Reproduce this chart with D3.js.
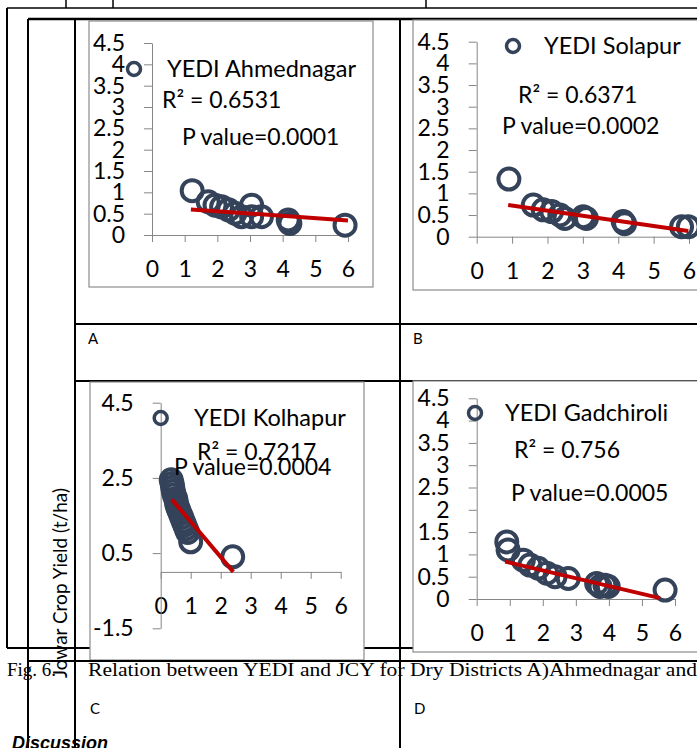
<!DOCTYPE html>
<html>
<head>
<meta charset="utf-8">
<script src="https://cdn.jsdelivr.net/npm/d3@7"></script>
<style>
  body { margin: 0; background: #fff; }
  text { font-family: Lato, "Open Sans", sans-serif; }
</style>
</head>
<body>
<div id="fig"></div>
<script>
// tick values
var xTicks = [0, 1, 2, 3, 4, 5, 6];
var yTicks = [0, 0.5, 1, 1.5, 2, 2.5, 3, 3.5, 4, 4.5];
var yTicksKolhapur = [-1.5, 0.5, 2.5, 4.5];

// A) Ahmednagar
var ahmednagarYedi = [1.23, 1.72, 1.93, 2.13, 2.34, 2.54, 2.74, 3.05, 3.05, 3.35, 4.17, 4.22, 5.91];
var ahmednagarJcy = [1.04, 0.78, 0.70, 0.66, 0.59, 0.51, 0.43, 0.70, 0.43, 0.43, 0.35, 0.27, 0.23];
var ahmednagarTrend = [[1.19, 0.60], [6.0, 0.34]];

// B) Solapur
var solapurYedi = [0.91, 1.6, 1.88, 2.12, 2.35, 2.49, 3.01, 3.1, 4.14, 4.18, 5.79, 5.98];
var solapurJcy = [1.33, 0.73, 0.62, 0.58, 0.50, 0.42, 0.46, 0.42, 0.35, 0.30, 0.23, 0.23];
var solapurTrend = [[0.89, 0.73], [5.98, 0.13]];

// C) Kolhapur
var kolhapurYedi = [0.35, 0.38, 0.4, 0.42, 0.45, 0.5, 0.52, 0.55, 0.6, 0.65, 0.7, 0.75, 0.8, 0.85, 0.9, 1.0, 2.4];
var kolhapurJcy = [2.45, 2.35, 2.25, 2.15, 2.05, 1.95, 1.85, 1.75, 1.65, 1.55, 1.45, 1.35, 1.25, 1.15, 1.05, 0.8, 0.4];
var kolhapurTrend = [[0.37, 1.93], [2.42, 0.0]];

// D) Gadchiroli
var gadchiroliYedi = [0.91, 0.95, 1.41, 1.61, 1.86, 2.12, 2.37, 2.77, 3.63, 3.73, 3.88, 3.98, 5.70];
var gadchiroliJcy = [1.28, 1.10, 0.87, 0.76, 0.69, 0.58, 0.50, 0.46, 0.35, 0.28, 0.31, 0.28, 0.20];
var gadchiroliTrend = [[0.86, 0.84], [5.55, 0.02]];

var charts = [
  { name: "YEDI Ahmednagar", r2: "R\u00b2 = 0.6531", p: "P value=0.0001",
    xs: ahmednagarYedi, ys: ahmednagarJcy, trend: ahmednagarTrend, yTicks: yTicks, yDomain: [0, 4.5],
    box: [89, 21, 284, 266], plot: [152, 348, 235, 43],
    legend: [134, 69, 167], r2Pos: [162, 100], pPos: [182, 137] },
  { name: "YEDI Solapur", r2: "R\u00b2 = 0.6371", p: "P value=0.0002",
    xs: solapurYedi, ys: solapurJcy, trend: solapurTrend, yTicks: yTicks, yDomain: [0, 4.5],
    box: [413, 20, 300, 270], plot: [476.7, 689, 236.7, 41.7],
    legend: [513, 46, 544], r2Pos: [518, 95], pPos: [502, 126] },
  { name: "YEDI Kolhapur", r2: "R\u00b2 = 0.7217", p: "P value=0.0004",
    xs: kolhapurYedi, ys: kolhapurJcy, trend: kolhapurTrend, yTicks: yTicksKolhapur, yDomain: [-1.5, 4.5],
    box: [90, 382, 274, 278], plot: [160.7, 340.7, 628.3, 402.7],
    legend: [160.7, 418, 194], r2Pos: [197, 452], pPos: [174, 467] },
  { name: "YEDI Gadchiroli", r2: "R\u00b2 = 0.756", p: "P value=0.0005",
    xs: gadchiroliYedi, ys: gadchiroliJcy, trend: gadchiroliTrend, yTicks: yTicks, yDomain: [0, 4.5],
    box: [413, 381, 300, 271], plot: [476.7, 675, 599, 398.3],
    legend: [475, 413, 505], r2Pos: [514, 450], pPos: [511, 493] }
];

var W = 697, H = 748;
var svg = d3.select("#fig").append("svg")
  .attr("width", W).attr("height", H);

svg.append("rect").attr("width", W).attr("height", H).attr("fill", "#fff");

// page / table lines behind the charts
var lines = [
  [66, 0, 66, 8, 1.5], [113, 0, 113, 8, 1.5], [426, 0, 426, 8, 1.5],
  [7, 8, 697, 8, 1.5],
  [7, 8, 7, 648, 2], [7, 648, 697, 648, 2],
  [28, 19, 697, 19, 2.5],
  [28, 19, 28, 748, 2], [75, 19, 75, 748, 2], [400, 19, 400, 748, 2],
  [75, 324, 697, 324, 2], [75, 381, 697, 381, 2]
];
svg.selectAll(".tline").data(lines).enter().append("line")
  .attr("x1", d => d[0]).attr("y1", d => d[1])
  .attr("x2", d => d[2]).attr("y2", d => d[3])
  .attr("stroke", "#000").attr("stroke-width", d => d[4]);

svg.append("text").attr("x", 88).attr("y", 344).attr("font-size", 15).text("A");
svg.append("text").attr("x", 413).attr("y", 344).attr("font-size", 15).text("B");

charts.forEach(function (c) {
  var g = svg.append("g");
  g.append("rect")
    .attr("x", c.box[0]).attr("y", c.box[1])
    .attr("width", c.box[2]).attr("height", c.box[3])
    .attr("fill", "#fff").attr("stroke", "#8c8c8c").attr("stroke-width", 1.2);

  var x = d3.scaleLinear().domain([0, 6]).range([c.plot[0], c.plot[1]]);
  var y = d3.scaleLinear().domain(c.yDomain).range([c.plot[2], c.plot[3]]);

  // X axis
  var xa = g.append("g")
    .attr("transform", "translate(0," + y(0) + ")")
    .call(d3.axisBottom(x).tickValues(xTicks).tickSize(7).tickSizeOuter(0).tickPadding(19)
      .tickFormat(d3.format("d")));
  // Y axis
  var ya = g.append("g")
    .attr("transform", "translate(" + x(0) + ",0)")
    .call(d3.axisLeft(y).tickValues(c.yTicks).tickSize(8).tickSizeOuter(0).tickPadding(19)
      .tickFormat(d => String(d)));
  [xa, ya].forEach(function (a) {
    a.select(".domain").attr("stroke", "#868686");
    a.selectAll(".tick line").attr("stroke", "#868686");
    a.selectAll(".tick text").attr("font-size", 23).attr("fill", "#000")
      .style("font-family", "Lato, sans-serif");
  });

  // markers
  var pts = c.xs.map((v, i) => [v, c.ys[i]]);
  g.selectAll(".pt").data(pts).enter().append("circle")
    .attr("cx", d => x(d[0])).attr("cy", d => y(d[1]))
    .attr("r", 10.5)
    .attr("fill", "none").attr("stroke", "#34435a").attr("stroke-width", 4);

  // linear trendline
  g.append("line")
    .attr("x1", x(c.trend[0][0])).attr("y1", y(c.trend[0][1]))
    .attr("x2", x(c.trend[1][0])).attr("y2", y(c.trend[1][1]))
    .attr("stroke", "#c00000").attr("stroke-width", 4);

  // legend
  g.append("circle").attr("cx", c.legend[0]).attr("cy", c.legend[1]).attr("r", 6.5)
    .attr("fill", "none").attr("stroke", "#34435a").attr("stroke-width", 3.5);
  g.append("text").attr("x", c.legend[2]).attr("y", c.legend[1]).attr("dy", "0.35em")
    .attr("font-size", 23.5).text(c.name);

  g.append("text").attr("x", c.r2Pos[0]).attr("y", c.r2Pos[1]).attr("dy", "0.35em")
    .attr("font-size", 23).text(c.r2);
  g.append("text").attr("x", c.pPos[0]).attr("y", c.pPos[1]).attr("dy", "0.35em")
    .attr("font-size", 23).text(c.p);
});

// y-axis title in the left column
svg.append("text")
  .attr("transform", "translate(60,583) rotate(-90)")
  .attr("text-anchor", "middle").attr("dy", "0.35em")
  .attr("font-size", 19).text("Jowar Crop Yield (t/ha)");

// caption, overlapping the next table row
svg.append("text").attr("x", 7).attr("y", 676)
  .style("font-family", "'Liberation Serif', serif").attr("font-size", 19).text("Fig. 6.");
svg.append("text").attr("x", 88).attr("y", 676)
  .style("font-family", "'Liberation Serif', serif").attr("font-size", 19)
  .attr("textLength", 609).attr("lengthAdjust", "spacingAndGlyphs")
  .text("Relation between YEDI and JCY for Dry Districts A)Ahmednagar and");
svg.append("line").attr("x1", 28).attr("y1", 661).attr("x2", 697).attr("y2", 661)
  .attr("stroke", "#000").attr("stroke-width", 2);
svg.append("text").attr("x", 90).attr("y", 714).attr("font-size", 15).text("C");
svg.append("text").attr("x", 414).attr("y", 714).attr("font-size", 15).text("D");

svg.append("text").attr("x", 12).attr("y", 749)
  .style("font-family", "'Liberation Sans', sans-serif")
  .attr("font-size", 18).attr("font-weight", "bold").attr("font-style", "italic")
  .text("Discussion");
</script>
</body>
</html>
